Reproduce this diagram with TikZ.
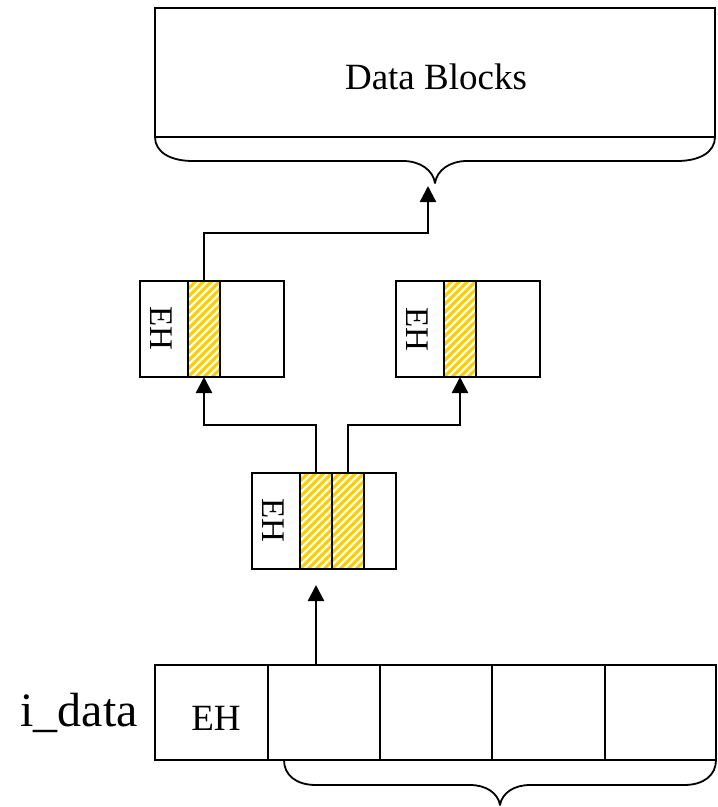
\documentclass[tikz,border=0pt]{standalone}
\usepackage{fontspec}
\setmainfont{Liberation Serif}
\usetikzlibrary{arrows.meta,calc}
\definecolor{hatchyellow}{RGB}{255,204,0}
\tikzset{
  cell/.style={draw, line width=2.4pt, inner sep=0pt, outer sep=0pt, anchor=north west},
  % diagonal yellow stripes clipped to the cell
  hatched/.style={cell, path picture={
      \foreach \k in {-14,...,5}
        \draw[hatchyellow, line width=3pt]
          ($(path picture bounding box.south west)+(\k*8pt,0pt)$) -- ++(140pt,140pt);
    }},
  link/.style={line width=2.4pt},
  linkarrow/.style={link, -{Triangle[width=16pt,length=16pt]}},
  brace/.style={line width=1.8pt, line join=round},
  vlabel/.style={rotate=-90, inner sep=0pt, font=\fontsize{33}{33}\selectfont},
  hlabel/.style={inner sep=0pt, font=\fontsize{37}{37}\selectfont},
}
\begin{document}
\begin{tikzpicture}[x=1pt, y=-1pt]
\useasboundingbox (0,0) rectangle (718,807);
\fill[white] (0,0) rectangle (718,807);

% data blocks
\node[cell, minimum width=560pt, minimum height=129pt] (db) at (155,8) {};
\node[hlabel] (dbtext) at (436,77) {Data Blocks};
\draw[brace] (155,137) .. controls (155,152) and (170,161) .. (193,161)
  -- (403,161) .. controls (420,161) and (433,170) .. (435,183)
  .. controls (437,170) and (450,161) .. (467,161)
  -- (677,161) .. controls (700,161) and (715,152) .. (715,137);
\coordinate (dbin) at (428,186);

% upper left block
\node[cell, minimum width=48pt, minimum height=96pt] (tl1) at (140,281) {};
\node[hatched, minimum width=32pt, minimum height=96pt] (tlh) at (188,281) {};
\node[cell, minimum width=64pt, minimum height=96pt] (tl3) at (220,281) {};
\node[vlabel] (tleh) at (161,328) {EH};

% upper right block
\node[cell, minimum width=48pt, minimum height=96pt] (tr1) at (396,281) {};
\node[hatched, minimum width=32pt, minimum height=96pt] (trh) at (444,281) {};
\node[cell, minimum width=64pt, minimum height=96pt] (tr3) at (476,281) {};
\node[vlabel] (treh) at (417,329) {EH};

% middle block
\node[cell, minimum width=48pt, minimum height=96pt] (m1) at (252,473) {};
\node[hatched, minimum width=32pt, minimum height=96pt] (mh1) at (300,473) {};
\node[hatched, minimum width=32pt, minimum height=96pt] (mh2) at (332,473) {};
\node[cell, minimum width=32pt, minimum height=96pt] (m4) at (364,473) {};
\node[vlabel] (meh) at (273,520) {EH};
\coordinate (midin) at (316,585);

% i_data row
\node[cell, minimum width=113pt, minimum height=95pt] (b1) at (155,665) {};
\node[cell, minimum width=112pt, minimum height=95pt] (b2) at (268,665) {};
\node[cell, minimum width=112pt, minimum height=95pt] (b3) at (380,665) {};
\node[cell, minimum width=113pt, minimum height=95pt] (b4) at (492,665) {};
\node[cell, minimum width=111pt, minimum height=95pt] (b5) at (605,665) {};
\node[hlabel] (beh) at (216,718) {EH};
\node[inner sep=0pt, anchor=base, font=\fontsize{48}{48}\selectfont] (idata) at (79,726) {i\_data};
\draw[brace] (284,760) .. controls (284,775) and (296,785) .. (316,785)
  -- (470,785) .. controls (486,785) and (498,793) .. (500,805)
  .. controls (502,793) and (514,785) .. (530,785)
  -- (684,785) .. controls (704,785) and (716,775) .. (716,760);

% connectors
\draw[linkarrow] (midin |- b2.north) -- (midin);
\draw[linkarrow] (mh1.north) -- ++(0,-48) -| (tlh.south);
\draw[linkarrow] (mh2.north) -- ++(0,-48) -| (trh.south);
\draw[linkarrow] (tlh.north) -- ++(0,-48) -| (dbin);
\end{tikzpicture}
\end{document}
